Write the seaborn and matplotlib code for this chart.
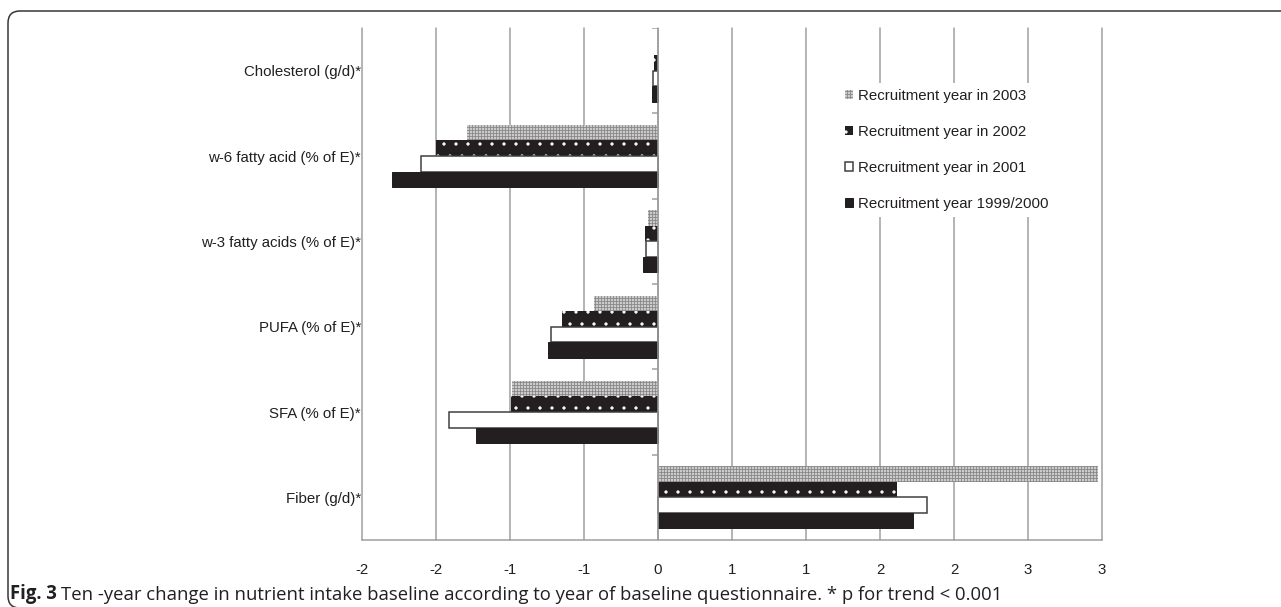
import numpy as np
import pandas as pd
import matplotlib
matplotlib.use('Agg')
import matplotlib.pyplot as plt
import seaborn as sns
from matplotlib.patches import FancyBboxPatch
from matplotlib.transforms import IdentityTransform

nutrients = ['Cholesterol (g/d)*', 'w-6 fatty acid (% of E)*', 'w-3 fatty acids (% of E)*',
             'PUFA (% of E)*', 'SFA (% of E)*', 'Fiber (g/d)*']
years = ['Recruitment year in 2003', 'Recruitment year in 2002',
         'Recruitment year in 2001', 'Recruitment year 1999/2000']

change_2003 = [-0.01, -1.29, -0.07, -0.43, -0.985, 2.975]
change_2002 = [-0.025, -1.50, -0.09, -0.65, -0.99, 1.615]
change_2001 = [-0.035, -1.60, -0.08, -0.72, -1.41, 1.815]
change_1999 = [-0.04, -1.80, -0.10, -0.74, -1.23, 1.72]

xtick_vals = [-2, -1.5, -1, -0.5, 0, 0.5, 1, 1.5, 2, 2.5, 3]
xtick_labels = ['-2', '-2', '-1', '-1', '0', '1', '1', '2', '2', '3', '3']

df = pd.DataFrame({'nutrient': nutrients,
                   years[0]: change_2003, years[1]: change_2002,
                   years[2]: change_2001, years[3]: change_1999})
df = df.melt(id_vars='nutrient', var_name='year', value_name='change')

sns.set_style('white')
plt.rcParams['font.family'] = ['Liberation Sans', 'DejaVu Sans']
plt.rcParams['hatch.linewidth'] = 0.8

black = '#231f20'
grid = '#9d9d9d'

# dpi 72 so that 1 pt == 1 px
fig = plt.figure(figsize=(1281 / 72, 607 / 72), dpi=72)
ax = fig.add_axes([362 / 1281, 67 / 607, 740 / 1281, 512 / 607])

sns.barplot(data=df, x='change', y='nutrient', hue='year', order=nutrients, hue_order=years,
            orient='h', width=0.727, palette=['#cccccc'] * 4, saturation=1,
            errorbar=None, legend=False, ax=ax)

styles = [
    dict(facecolor='#cbcbcb', edgecolor='#868686', hatch='++++', linewidth=0),
    dict(facecolor=black, edgecolor='white', hatch='.', linewidth=0),
    dict(facecolor='white', edgecolor='#3c3c3c', hatch=None, linewidth=1.5),
    dict(facecolor=black, edgecolor=black, hatch=None, linewidth=1),
]
for cont, st in zip(ax.containers, styles):
    for bar in cont:
        bar.set_facecolor(st['facecolor'])
        bar.set_edgecolor(st['edgecolor'])
        bar.set_hatch(st['hatch'])
        bar.set_linewidth(st['linewidth'])

ax.set_xlim(-2, 3)
ax.set_ylim(5.5, -0.5)
ax.set_xticks(xtick_vals)
ax.set_xticklabels(xtick_labels)
ax.set_xlabel('')
ax.set_ylabel('')
ax.set_axisbelow(True)
ax.grid(axis='x', color=grid, linewidth=1.5)
ax.grid(axis='y', visible=False)
for gl in ax.get_xgridlines():
    gl.set_clip_on(False)

for side in ['top', 'right', 'left']:
    ax.spines[side].set_visible(False)
ax.spines['bottom'].set_color(grid)
ax.spines['bottom'].set_linewidth(1.5)

ax.tick_params(axis='x', length=6, width=1.5, color=grid, pad=17, labelsize=15, labelcolor=black)
ax.tick_params(axis='y', length=0, pad=1, labelsize=15, labelcolor=black)

# zero axis with ticks between categories
ax.axvline(0, color=grid, linewidth=1.5, zorder=3)
ax.hlines(np.arange(-0.5, len(nutrients) - 1, 1.0), -0.04, 0, color=grid, linewidth=1.5, zorder=3)

leg = ax.legend(handles=ax.containers, labels=years, loc='upper left',
                bbox_to_anchor=(0.6446, 0.8925), borderaxespad=0, borderpad=0.4,
                fontsize=15, handlelength=0.55, handleheight=0.55, handletextpad=0.3,
                labelspacing=1.47, frameon=True, fancybox=False, framealpha=1)
leg.get_frame().set_facecolor('white')
leg.get_frame().set_edgecolor('none')
for t in leg.get_texts():
    t.set_color(black)

# rounded frame around the figure
frame = FancyBboxPatch((8, -1), 1300, 606 - 8 - 1, boxstyle='round,pad=0,rounding_size=12',
                       transform=IdentityTransform(), facecolor='none', edgecolor='#333333',
                       linewidth=1.5)
fig.patches.append(frame)

caption_font = ['Open Sans', 'DejaVu Sans']
t1 = fig.text(10 / 1281, 1 - 604 / 607, 'Fig. 3', fontsize=18.5, fontweight='bold',
              family=caption_font, color=black, va='bottom', ha='left')
ax.annotate('Ten -year change in nutrient intake baseline according to year of baseline '
            'questionnaire. * p for trend < 0.001',
            xy=(1, 0), xycoords=t1, xytext=(4, 0), textcoords='offset points',
            fontsize=18.5, family=caption_font, color=black,
            va='bottom', ha='left', annotation_clip=False)

fig.savefig('out.png', dpi=72)
